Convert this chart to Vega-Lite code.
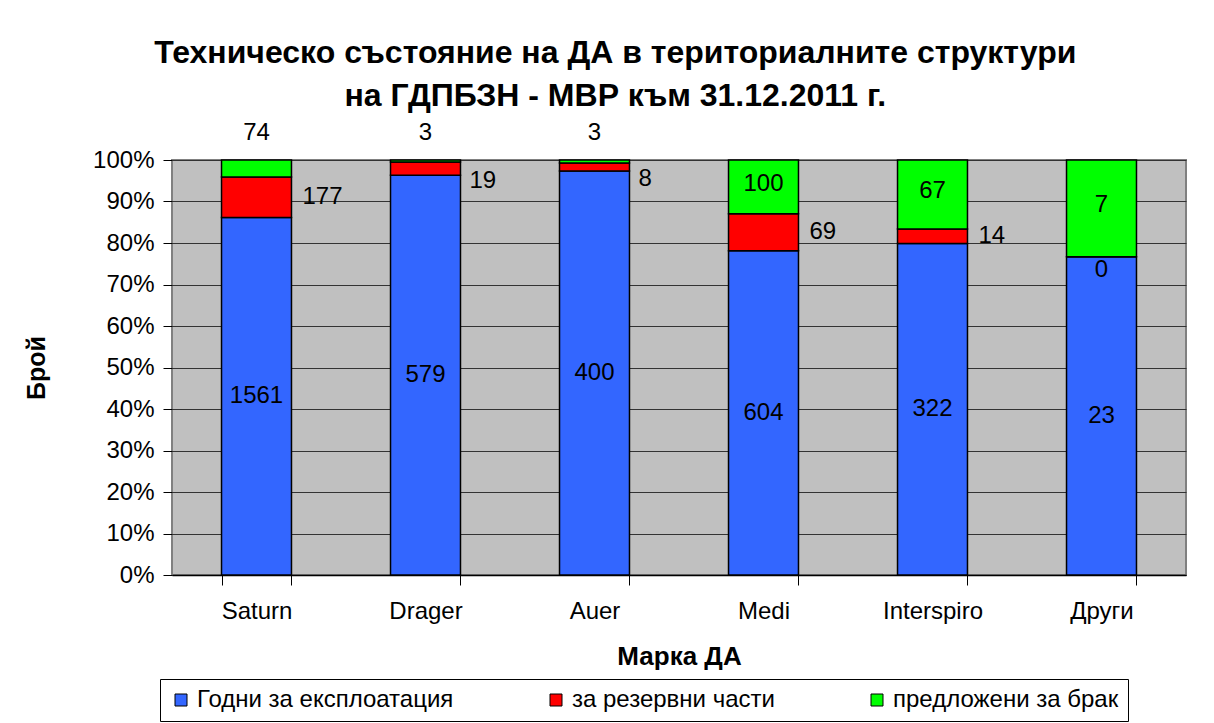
{
  "$schema": "https://vega.github.io/schema/vega-lite/v6.json",
  "width": 1014,
  "height": 415,
  "autosize": {"type": "none"},
  "padding": {"left": 172, "top": 160, "right": 28, "bottom": 148},
  "background": "white",
  "title": {
    "text": ["Техническо състояние на ДА в териториалните структури", "на ГДПБЗН - МВР към 31.12.2011 г."],
    "font": "Liberation Sans",
    "fontSize": 32,
    "fontWeight": "bold",
    "color": "black",
    "anchor": "middle",
    "frame": "bounds",
    "lineHeight": 43,
    "offset": 8,
    "dx": 10
  },
  "config": {
    "font": "Liberation Sans",
    "view": {"fill": "#C0C0C0", "stroke": "#808080", "strokeWidth": 2},
    "axis": {"labelFont": "Liberation Sans", "titleFont": "Liberation Sans", "labelColor": "black", "titleColor": "black"}
  },
  "data": {
    "values": [
      {"brand": "Saturn", "status": "Годни за експлоатация", "count": 1561},
      {"brand": "Saturn", "status": "за резервни части", "count": 177},
      {"brand": "Saturn", "status": "предложени за брак", "count": 74},
      {"brand": "Drager", "status": "Годни за експлоатация", "count": 579},
      {"brand": "Drager", "status": "за резервни части", "count": 19},
      {"brand": "Drager", "status": "предложени за брак", "count": 3},
      {"brand": "Auer", "status": "Годни за експлоатация", "count": 400},
      {"brand": "Auer", "status": "за резервни части", "count": 8},
      {"brand": "Auer", "status": "предложени за брак", "count": 3},
      {"brand": "Medi", "status": "Годни за експлоатация", "count": 604},
      {"brand": "Medi", "status": "за резервни части", "count": 69},
      {"brand": "Medi", "status": "предложени за брак", "count": 100},
      {"brand": "Interspiro", "status": "Годни за експлоатация", "count": 322},
      {"brand": "Interspiro", "status": "за резервни части", "count": 14},
      {"brand": "Interspiro", "status": "предложени за брак", "count": 67},
      {"brand": "Други", "status": "Годни за експлоатация", "count": 23},
      {"brand": "Други", "status": "за резервни части", "count": 0},
      {"brand": "Други", "status": "предложени за брак", "count": 7}
    ]
  },
  "transform": [
    {"stack": "count", "groupby": ["brand"], "sort": [{"field": "status", "order": "ascending"}], "offset": "normalize", "as": ["y0", "y1"]},
    {"calculate": "(datum.y0 + datum.y1) / 2", "as": "mid"},
    {"calculate": "datum.y1 - datum.y0", "as": "frac"}
  ],
  "encoding": {
    "x": {
      "field": "brand",
      "type": "nominal",
      "sort": ["Saturn", "Drager", "Auer", "Medi", "Interspiro", "Други"],
      "scale": {"paddingInner": 0.586, "paddingOuter": 0.293},
      "axis": {
        "title": "Марка ДА",
        "titleFontSize": 26,
        "titleFontWeight": "bold",
        "titlePadding": 20,
        "labelFontSize": 24,
        "labelAngle": 0,
        "labelPadding": 14,
        "tickBand": "extent",
        "tickSize": 10,
        "tickColor": "black",
        "domainColor": "black",
        "domainWidth": 1.5,
        "grid": false
      }
    }
  },
  "layer": [
    {
      "mark": {"type": "bar", "stroke": "black", "strokeWidth": 1.5},
      "encoding": {
        "y": {
          "field": "y1",
          "type": "quantitative",
          "scale": {"domain": [0, 1], "nice": false},
          "axis": {
            "title": "Брой",
            "titleFontSize": 25,
            "titleFontWeight": "bold",
            "titlePadding": 43,
            "labelFontSize": 24,
            "labelPadding": 9,
            "format": ".0%",
            "values": [0, 0.1, 0.2, 0.3, 0.4, 0.5, 0.6, 0.7, 0.8, 0.9, 1],
            "tickSize": 9,
            "tickColor": "black",
            "domain": false,
            "grid": true,
            "gridColor": "#333333",
            "gridWidth": 1
          }
        },
        "y2": {"field": "y0"},
        "color": {
          "field": "status",
          "type": "nominal",
          "scale": {
            "domain": ["Годни за експлоатация", "за резервни части", "предложени за брак"],
            "range": ["#3366FF", "#FF0000", "#00FF00"]
          },
          "legend": {
            "title": null,
            "orient": "none",
            "direction": "horizontal",
            "legendX": -12,
            "legendY": 519,
            "labelFontSize": 24,
            "labelFont": "Liberation Sans",
            "labelColor": "black",
            "labelLimit": 400,
            "symbolType": "square",
            "symbolSize": 144,
            "symbolStrokeColor": "black",
            "symbolStrokeWidth": 1,
            "symbolOpacity": 1,
            "labelOffset": 4,
            "columnPadding": 90,
            "padding": 9,
            "strokeColor": "black",
            "fillColor": "white"
          }
        }
      }
    },
    {
      "transform": [{"filter": "datum.status == 'Годни за експлоатация'"}],
      "mark": {"type": "text", "fontSize": 24, "color": "black", "baseline": "middle", "align": "center"},
      "encoding": {
        "y": {"field": "mid", "type": "quantitative"},
        "text": {"field": "count", "type": "quantitative"}
      }
    },
    {
      "transform": [{"filter": "datum.status == 'за резервни части' && datum.frac >= 0.033"}],
      "mark": {"type": "text", "fontSize": 24, "color": "black", "baseline": "middle", "align": "left", "dx": 46},
      "encoding": {
        "y": {"field": "mid", "type": "quantitative"},
        "text": {"field": "count", "type": "quantitative"}
      }
    },
    {
      "transform": [{"filter": "datum.status == 'за резервни части' && datum.frac < 0.033 && datum.count > 0"}],
      "mark": {"type": "text", "fontSize": 24, "color": "black", "baseline": "middle", "align": "left", "dx": 44, "dy": 12},
      "encoding": {
        "y": {"field": "mid", "type": "quantitative"},
        "text": {"field": "count", "type": "quantitative"}
      }
    },
    {
      "transform": [{"filter": "datum.status == 'за резервни части' && datum.count == 0"}],
      "mark": {"type": "text", "fontSize": 24, "color": "black", "baseline": "middle", "align": "center", "dy": 13},
      "encoding": {
        "y": {"field": "mid", "type": "quantitative"},
        "text": {"field": "count", "type": "quantitative"}
      }
    },
    {
      "transform": [{"filter": "datum.status == 'предложени за брак' && datum.frac >= 0.05"}],
      "mark": {"type": "text", "fontSize": 24, "color": "black", "baseline": "middle", "align": "center", "dy": -3},
      "encoding": {
        "y": {"field": "mid", "type": "quantitative"},
        "text": {"field": "count", "type": "quantitative"}
      }
    },
    {
      "transform": [{"filter": "datum.status == 'предложени за брак' && datum.frac < 0.05"}],
      "mark": {"type": "text", "fontSize": 24, "color": "black", "baseline": "middle", "align": "center", "dy": -27},
      "encoding": {
        "y": {"field": "y1", "type": "quantitative"},
        "text": {"field": "count", "type": "quantitative"}
      }
    }
  ]
}
